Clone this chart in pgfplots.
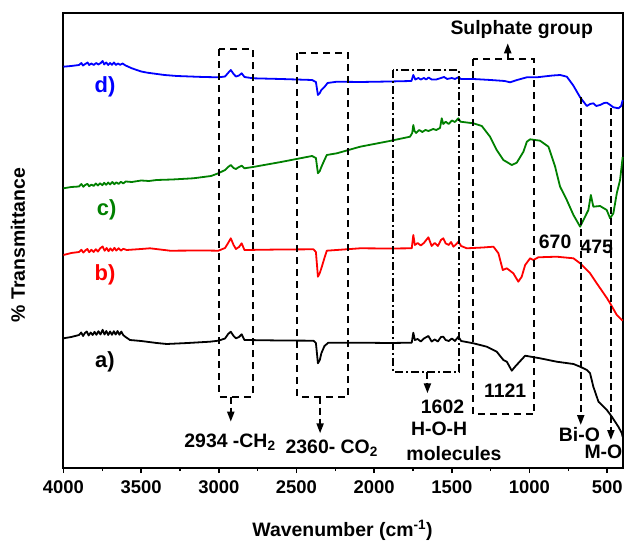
\documentclass[border=0pt]{standalone}
\usepackage{fontspec}
\setmainfont{Liberation Sans}
\usepackage{pgfplots}
\pgfplotsset{compat=1.18}
\usetikzlibrary{arrows.meta}

\definecolor{tblue}{RGB}{0,0,255}
\definecolor{tgreen}{RGB}{0,128,0}
\definecolor{tred}{RGB}{255,0,0}

\tikzset{
  box/.style={black, line width=2bp, dash pattern=on 7bp off 5bp},
  dbox/.style={black, line width=2bp, dash pattern=on 8bp off 3bp on 2bp off 3bp},
  arr/.style={black, line width=2bp, dash pattern=on 7bp off 4bp, -{Triangle[length=10bp,width=7bp]}},
  lab/.style={font=\bfseries\fontsize{19.5}{22}\selectfont, inner sep=0pt, anchor=base},
  tlab/.style={font=\bfseries\fontsize{22}{25}\selectfont, inner sep=0pt, anchor=center},
}

\begin{document}
\begin{tikzpicture}
\begin{axis}[
  scale only axis, width=559.2bp, height=455bp,
  xmin=400, xmax=4000, x dir=reverse,
  ymin=-468, ymax=-13,
  ytick=\empty,
  xtick={500,1000,...,4000},
  minor x tick num=1,
  xtick pos=bottom, tick align=outside,
  major tick length=5bp, minor tick length=3bp,
  axis line style={line width=2bp},
  tick style={line width=1.5bp, black},
  ticklabel style={font=\bfseries\fontsize{18.5}{20}\selectfont},
  xticklabel style={yshift=-4bp},
  /pgf/number format/assume math mode=true,
  /pgf/number format/1000 sep={},
  xlabel={Wavenumber (cm\textsuperscript{-1})},
  ylabel={\% Transmittance},
  label style={font=\bfseries\fontsize{19.5}{22}\selectfont},
  xlabel style={at={(axis description cs:0.499,0)}, anchor=base, yshift=-68.7bp},
  ylabel style={at={(axis description cs:-0.0814,0.49)}, anchor=center},
  clip=false,
  every axis plot/.append style={line width=1.8bp, mark=none, line join=round},
]

% d)
\addplot[tblue] table {
4000 -66.7
3950 -66
3900 -65
3885 -63
3875 -65.5
3860 -64
3845 -62.5
3835 -65
3820 -63.5
3805 -65
3790 -63
3775 -64.5
3760 -63
3748 -61
3738 -64.5
3725 -62.5
3712 -65
3700 -63
3688 -64.8
3675 -62.5
3662 -65
3650 -63.5
3635 -64.8
3620 -63.5
3600 -65.5
3560 -68.3
3500 -71.5
3460 -72.7
3350 -75
3270 -76
3100 -77
3000 -77.3
2960 -76.5
2935 -72
2923 -70
2905 -74
2890 -76.5
2870 -75.5
2853 -73.3
2835 -77
2780 -78.3
2600 -79
2400 -80
2375 -82
2362 -95
2350 -93
2340 -90
2320 -87
2300 -83
2240 -81.7
2090 -82
1900 -81.5
1760 -81
1748 -75
1735 -79.5
1715 -78
1700 -79.5
1680 -78
1665 -79.5
1650 -77.5
1630 -79.5
1600 -79.5
1570 -78
1550 -77
1530 -79
1500 -78
1480 -79
1458 -77.3
1440 -79
1361 -79
1250 -80
1160 -81
1125 -82.3
1080 -80
1017 -77.3
953 -77.3
850 -75.5
803 -75
760 -76.7
720 -85
674 -97.3
631 -106
610 -104
589 -103.3
570 -106
546 -105
520 -103
502 -102.7
480 -105
460 -107.3
427 -108.3
410 -106
400 -100
};

% c)
\addplot[tgreen] table {
4000 -188.3
3950 -187
3900 -186.5
3885 -184
3872 -186.8
3860 -185
3846 -183.8
3835 -186.3
3820 -184.5
3806 -186
3792 -183.5
3778 -185.5
3765 -183.2
3750 -185.2
3738 -182.8
3725 -184.8
3712 -182.5
3700 -184.5
3686 -182
3672 -184.2
3660 -182.3
3645 -184
3630 -181.8
3615 -183.5
3600 -181.5
3560 -182
3500 -180.5
3450 -181
3400 -180
3300 -179.5
3164 -178.3
3050 -176
3003 -173.3
2960 -170
2940 -167
2923 -165
2905 -168
2890 -169
2870 -167
2853 -165.7
2835 -168.3
2780 -167
2600 -162
2400 -156
2375 -158
2362 -173.3
2350 -171
2340 -167
2320 -160
2305 -155
2240 -153.3
2090 -146.7
1900 -141
1769 -136.7
1755 -133
1748 -125
1740 -131
1730 -133
1710 -130
1690 -132
1670 -130
1650 -131
1620 -129
1600 -130
1576 -128
1565 -118.3
1555 -124
1540 -121.7
1520 -124
1500 -120.5
1480 -122
1458 -118.3
1445 -121.7
1361 -123.3
1307 -126
1254 -136.7
1211 -150
1168 -160
1114 -165
1082 -162.7
1039 -151.7
1017 -141.7
996 -139.3
932 -140.7
878 -146.7
835 -166.7
814 -180
803 -186.7
760 -200
717 -215
674 -226.7
653 -220
621 -210
605 -195
589 -206.7
546 -206
503 -210
481 -218.3
460 -213.3
438 -193.3
417 -180
400 -157
};

% b)
\addplot[tred] table {
4000 -255
3950 -253
3900 -252
3885 -249.8
3872 -252.6
3860 -250.5
3846 -249
3835 -252.2
3820 -249.8
3806 -252
3792 -249.2
3778 -251.6
3765 -248.5
3748 -246.5
3735 -250.8
3722 -248
3710 -251.2
3698 -248.4
3685 -250.8
3672 -247.8
3660 -250.6
3645 -248.2
3630 -250.6
3615 -248.8
3593 -250
3500 -249
3443 -248.3
3314 -250.7
3100 -250.5
3003 -250.7
2960 -248
2940 -243
2923 -238.3
2905 -245
2890 -249
2870 -247
2853 -243.3
2835 -250
2600 -249.5
2391 -249.3
2375 -252
2362 -276.7
2350 -273
2340 -268.3
2320 -258
2305 -250.7
2090 -248.3
1900 -248.5
1758 -248.3
1748 -235
1738 -245
1720 -243
1700 -245.5
1680 -243
1651 -237.3
1630 -246
1610 -243
1590 -246
1570 -240
1555 -238.3
1540 -243.3
1520 -245
1505 -242
1490 -246.7
1470 -244
1458 -241.7
1440 -246
1404 -248.3
1300 -247.5
1232 -246.7
1200 -253.3
1172 -270
1146 -268.3
1104 -273.3
1072 -281.7
1050 -276.7
1028 -265
996 -258.3
975 -260
943 -257.3
825 -256.7
717 -258.3
674 -263.3
610 -273.3
567 -283.3
502 -298
481 -303.3
438 -315
400 -320.7
};

% a)
\addplot[black] table {
4000 -338.3
3950 -337
3900 -335
3886 -332.5
3874 -336
3862 -333
3850 -331.5
3838 -335.5
3825 -332.5
3812 -335
3800 -331.8
3788 -334.8
3775 -331.2
3762 -334.5
3748 -329.8
3736 -334.5
3724 -331
3712 -335
3700 -331.5
3688 -334.8
3676 -331.2
3664 -334.6
3652 -331
3640 -334.8
3628 -331.6
3615 -335.2
3600 -337
3572 -340
3500 -341
3400 -343
3335 -344
3200 -343
3057 -341.7
3003 -340.7
2960 -338.5
2940 -334
2923 -331.7
2905 -336
2890 -338.3
2870 -337
2853 -334.3
2835 -340
2600 -340.5
2391 -340.7
2375 -343
2362 -363.3
2350 -360
2340 -353.3
2320 -346
2295 -342.7
2090 -342.7
1900 -343
1758 -342.7
1748 -332.7
1738 -340
1720 -339
1700 -341.5
1680 -338.5
1651 -336
1630 -341.5
1610 -339.5
1590 -341.5
1570 -337
1555 -336.7
1540 -340
1520 -341
1500 -338.5
1480 -341
1458 -336.7
1440 -341
1361 -343.3
1275 -346.7
1211 -351.7
1168 -360
1146 -361.7
1114 -370.7
1093 -366.7
1028 -355.7
932 -358.3
825 -361.7
717 -364
674 -366.7
631 -370
610 -373.3
589 -386.7
556 -401.7
502 -410
470 -416.7
428 -426.7
406 -433
400 -437
};

% dashed boxes and arrows
\draw[box] (2997,-49.3) rectangle (2782,-396.7);
\draw[arr] (2923,-396.7) -- (2923,-421.7);
\draw[box] (2494,-53.3) rectangle (2166,-396.7);
\draw[arr] (2348,-396.7) -- (2348,-433.3);
\draw[dbox] (1880,-70) rectangle (1451,-371.7);
\draw[arr] (1657,-371.7) -- (1657,-393.3);
\draw[box] (1365,-59.3) rectangle (968,-414.3);
\draw[arr] (1140,-59.3) -- (1140,-43.3);
\draw[arr] (670,-97) -- (670,-425);
\draw[arr] (476,-108) -- (476,-440);

% annotation text
\node[lab] at (2928,-447.3) {2934 -CH\textsubscript{2}};
\node[lab] at (2273,-453.3) {2360- CO\textsubscript{2}};
\node[lab] at (1560,-413.3) {1602};
\node[lab] at (1582,-435) {H-O-H};
\node[lab] at (1486,-460) {molecules};
\node[lab] at (1050,-35) {Sulphate group};
\node[lab] at (1157,-397.3) {1121};
\node[lab] at (835,-248.3) {670};
\node[lab] at (567,-254) {475};
\node[lab] at (679,-441.7) {Bi-O};
\node[lab] at (524,-458.3) {M-O};

% trace labels
\node[tlab, text=tblue] at (3733,-86.7) {d)};
\node[tlab, text=tgreen] at (3722,-210) {c)};
\node[tlab, text=tred] at (3733,-275) {b)};
\node[tlab, text=black] at (3733,-361.7) {a)};
\end{axis}
\pgfresetboundingbox
\path[use as bounding box] (current axis.south west) ++(-63.5bp,-73bp) rectangle ++(625bp,541bp);
\end{tikzpicture}
\end{document}
